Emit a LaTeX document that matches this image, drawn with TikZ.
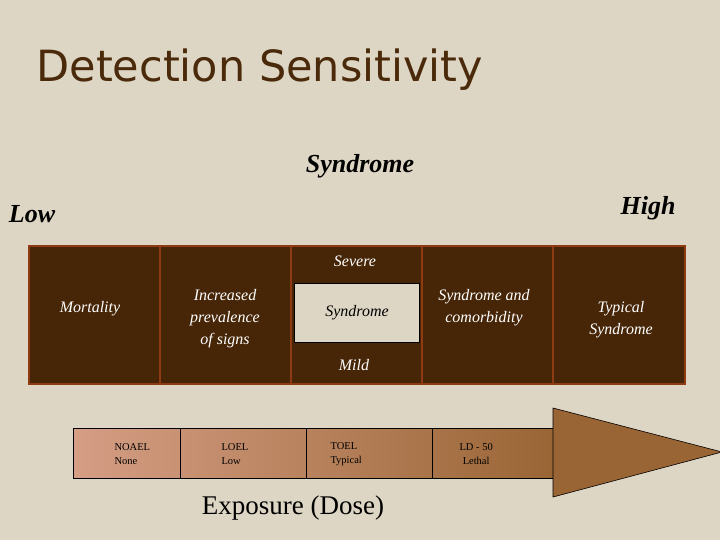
\documentclass[tikz,border=0pt]{standalone}
\usepackage{fontspec}
\setmainfont{Liberation Serif}
\newfontfamily\titlefont{DejaVu Sans}
\definecolor{bg}{HTML}{DED6C4}
\definecolor{dk}{HTML}{472608}
\definecolor{rim}{HTML}{8E3A12}
\definecolor{gl}{HTML}{D59E85}
\definecolor{gr}{HTML}{9A6535}
\definecolor{tt}{HTML}{4A2A0A}
\begin{document}
\begin{tikzpicture}[x=1pt,y=-1pt,
  col/.style={draw=rim,line width=2.2pt,fill=dk},
  wt/.style={text=white,font=\itshape\fontsize{16}{22}\selectfont,align=center},
  seg/.style={font=\fontsize{10.5}{14}\selectfont,align=left,anchor=west}]
\fill[bg] (0,0) rectangle (720,540);
\useasboundingbox (0,0) rectangle (720,540);
\node[anchor=west,text=tt,font=\titlefont\fontsize{43}{48}\selectfont] (title) at (33,70) {Detection Sensitivity};
\node[font=\bfseries\itshape\fontsize{26}{28}\selectfont] (syn) at (360,166) {Syndrome};
\node[font=\bfseries\itshape\fontsize{26}{28}\selectfont] (low) at (32,214) {Low};
\node[font=\bfseries\itshape\fontsize{26}{28}\selectfont] (high) at (648,208) {High};
% columns
\draw[col] (29,246) rectangle (160,384);
\draw[col] (160,246) rectangle (291,384);
\draw[col] (291,246) rectangle (422,384);
\draw[col] (422,246) rectangle (553,384);
\draw[col] (553,246) rectangle (685,384);
\node[wt] (c1) at (90,309) {Mortality};
\node[wt] (c2) at (225,319) {Increased\\prevalence\\of signs};
\node[wt] (sev) at (355,261) {Severe};
\node[draw=black,line width=0.6pt,fill=bg,minimum width=125pt,minimum height=59pt,font=\itshape\fontsize{16}{20}\selectfont] (c3) at (357,313) {Syndrome};
\node[wt] (mild) at (354,365) {Mild};
\node[wt] (c4) at (484,308) {Syndrome and\\comorbidity};
\node[wt] (c5) at (621,320) {Typical\\Syndrome};
% arrow
\shade[left color=gl,right color=gr] (73,428) rectangle (553,478);
\draw[line width=0.6pt] (73,428) -- (553,428) (73,478) -- (553,478) (73,428) -- (73,478);
\draw[line width=0.6pt] (180,428) -- (180,478) (306,428) -- (306,478) (432,428) -- (432,478);
\draw[fill=gr,line width=0.6pt] (553,408) -- (722,452) -- (553,497) -- cycle;
\node[seg] (s1) at (111,454) {NOAEL\\None};
\node[seg] (s2) at (218,454) {LOEL\\Low};
\node[seg] (s3) at (327,454) {TOEL\\Typical};
\node[seg,align=center] (s4) at (456,454) {LD - 50\\Lethal};
\node[font=\fontsize{27}{30}\selectfont] (exp) at (293,508) {Exposure (Dose)};
\end{tikzpicture}
\end{document}
